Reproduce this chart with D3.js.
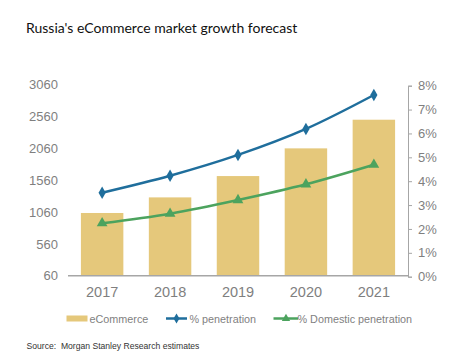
<!DOCTYPE html>
<html><head><meta charset="utf-8">
<script src="https://cdn.jsdelivr.net/npm/d3@7"></script>
<style>body{margin:0;background:#fff}svg{display:block}</style>
</head><body>
<svg id="c" width="465" height="358"></svg>
<script>
const years = ["2017","2018","2019","2020","2021"];
const ecommerce = [1045, 1290, 1625, 2060, 2510];
const penetration = [3.52, 4.23, 5.10, 6.19, 7.61];
const domestic = [2.24, 2.64, 3.21, 3.87, 4.69];
const leftTicks = [60, 560, 1060, 1560, 2060, 2560, 3060];
const rightTicks = [0,1,2,3,4,5,6,7,8];

const svg = d3.select("#c");
const L = 68, R = 408, T = 84.7, B = 275.7;
const x = d3.scaleBand().domain(years).range([L, R]).paddingInner(0.375).paddingOuter(0.19);
const yL = d3.scaleLinear().domain([60, 3060]).range([B, T]);
const yR = d3.scaleLinear().domain([0, 8]).range([B+1, T+1]);

const gray = "#7f7f7f";
svg.append("text").attr("x", 26).attr("y", 33).attr("font-family", "Lato, 'Open Sans', sans-serif")
  .attr("font-size", 14).attr("fill", "#111").text("Russia's eCommerce market growth forecast");

// bars
svg.selectAll("rect.bar").data(ecommerce).join("rect").attr("class","bar")
  .attr("x", (d,i) => x(years[i])).attr("width", x.bandwidth())
  .attr("y", d => yL(d)).attr("height", d => B - yL(d)).attr("fill", "#E5C87B");

// baseline
svg.append("line").attr("x1", L).attr("x2", R).attr("y1", B).attr("y2", B).attr("stroke", "#a6a6a6").attr("stroke-width", 1.5);

// left axis
const gl = svg.append("g").attr("transform", `translate(${L},0)`)
  .call(d3.axisLeft(yL).tickValues(leftTicks).tickFormat(d3.format("d")).tickSize(0).tickPadding(10));
gl.select(".domain").remove();
gl.selectAll("text").attr("font-family", "'Liberation Sans', Arial, sans-serif").attr("font-size", 13).attr("fill", gray);

// right axis
const gr = svg.append("g").attr("transform", `translate(${R},0)`)
  .call(d3.axisRight(yR).tickValues(rightTicks).tickFormat(d => d + "%").tickSize(4).tickPadding(6));
gr.select(".domain").attr("stroke", "#a6a6a6");
gr.selectAll("line").attr("stroke", "#a6a6a6");
gr.selectAll("text").attr("font-family", "'Liberation Sans', Arial, sans-serif").attr("font-size", 13).attr("fill", gray);

// x axis labels
const gx = svg.append("g").attr("transform", `translate(0,${B})`)
  .call(d3.axisBottom(x).tickSize(0).tickPadding(11));
gx.select(".domain").remove();
gx.selectAll("text").attr("font-family", "'Liberation Sans', Arial, sans-serif").attr("font-size", 14.5).attr("fill", gray);

const cx = i => x(years[i]) + x.bandwidth()/2;
const line = d3.line().x((d,i) => cx(i)).y(d => yR(d)).curve(d3.curveMonotoneX);
const blue = "#1F6E9C", green = "#4CA35E";
svg.append("path").datum(penetration).attr("d", line).attr("fill","none").attr("stroke", blue).attr("stroke-width", 2.5);
svg.append("path").datum(domestic).attr("d", line).attr("fill","none").attr("stroke", green).attr("stroke-width", 2.5);
const diamond = d3.symbol().type(d3.symbolDiamond).size(45);
const tri = d3.symbol().type(d3.symbolTriangle).size(50);
svg.selectAll("path.pm").data(penetration).join("path").attr("class","pm")
  .attr("transform", (d,i) => `translate(${cx(i)},${yR(d)})`).attr("d", diamond).attr("fill", blue);
svg.selectAll("path.dm").data(domestic).join("path").attr("class","dm")
  .attr("transform", (d,i) => `translate(${cx(i)},${yR(d)})`).attr("d", tri).attr("fill", green);

// legend
const ly = 318.5;
const lf = "'Liberation Sans', Arial, sans-serif";
svg.append("rect").attr("x", 66.5).attr("y", ly-3).attr("width", 21).attr("height", 6).attr("fill", "#E5C87B");
svg.append("text").attr("x", 89.5).attr("y", ly+4).attr("font-family", lf).attr("font-size", 10.8).attr("fill", gray).text("eCommerce");
svg.append("line").attr("x1", 166).attr("x2", 187).attr("y1", ly).attr("y2", ly).attr("stroke", blue).attr("stroke-width", 2.5);
svg.append("path").attr("transform", `translate(176.5,${ly})`).attr("d", d3.symbol().type(d3.symbolDiamond).size(30)).attr("fill", blue);
svg.append("text").attr("x", 189.5).attr("y", ly+4).attr("font-family", lf).attr("font-size", 10.8).attr("fill", gray).text("% penetration");
svg.append("line").attr("x1", 273.5).attr("x2", 298).attr("y1", ly).attr("y2", ly).attr("stroke", green).attr("stroke-width", 2.5);
svg.append("path").attr("transform", `translate(286,${ly})`).attr("d", d3.symbol().type(d3.symbolTriangle).size(30)).attr("fill", green);
svg.append("text").attr("x", 297.5).attr("y", ly+4).attr("font-family", lf).attr("font-size", 10.8).attr("fill", gray).text("% Domestic penetration");

svg.append("text").attr("x", 26.5).attr("y", 348.5).attr("font-family", lf).attr("font-size", 8.6).attr("fill", "#333")
  .style("white-space", "pre").text("Source:  Morgan Stanley Research estimates");
</script>
</body></html>
